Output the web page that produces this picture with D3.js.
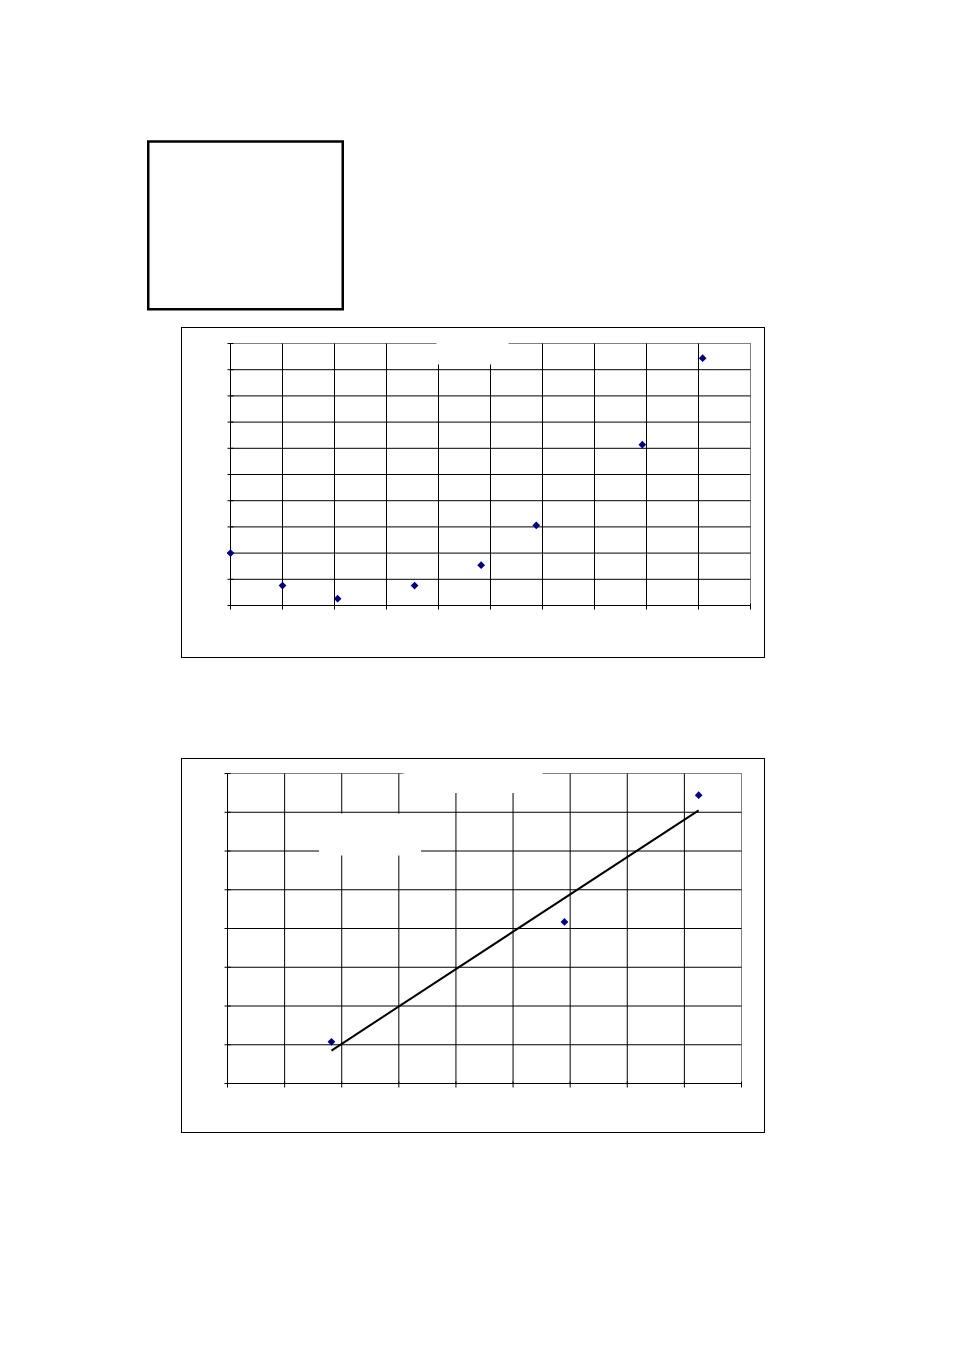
<!DOCTYPE html>
<html>
<head>
<meta charset="utf-8">
<script src="https://cdn.jsdelivr.net/npm/d3@7"></script>
<style>
    body { margin: 0; background: #fff; }
    svg { display: block; }
</style>
</head>
<body>
<svg id="page"></svg>
<script>
// Chart 1 - scatter (x 0..10, y 0..10)
const scatterX = [0, 1.0, 2.06, 3.54, 4.82, 5.88, 7.92, 9.08];
const scatterY = [2.0, 0.76, 0.26, 0.76, 1.54, 3.06, 6.14, 9.44];
const scatterXTicks = d3.range(0, 11);
const scatterYTicks = d3.range(0, 11);

// Chart 2 - scatter with linear trend line (x 0..9, y 0..8)
const trendX = [1.82, 5.90, 8.25];
const trendY = [1.075, 4.17, 7.44];
const trendXTicks = d3.range(0, 10);
const trendYTicks = d3.range(0, 9);

class GridScatter {
    constructor(_config, _xs, _ys) {
        this.config = {
            parent: _config.parent,
            frame: _config.frame,
            plot: _config.plot,
            xTicks: _config.xTicks,
            yTicks: _config.yTicks,
            blanks: _config.blanks || [],
            trend: _config.trend || false
        };
        this.data = _xs.map((x, i) => ({ x: x, y: _ys[i] }));
        this.initVis();
    }

    initVis() {
        let vis = this;
        const c = vis.config;

        vis.xScale = d3.scaleLinear()
            .domain(d3.extent(c.xTicks))
            .range([c.plot.x0, c.plot.x1]);
        vis.yScale = d3.scaleLinear()
            .domain(d3.extent(c.yTicks))
            .range([c.plot.y1, c.plot.y0]);

        vis.g = c.parent.append('g');

        // outer chart frame
        vis.g.append('rect')
            .attr('x', c.frame.x).attr('y', c.frame.y)
            .attr('width', c.frame.w).attr('height', c.frame.h)
            .attr('fill', '#fff').attr('stroke', '#000').attr('stroke-width', 1);

        // plot area border (grey top / right)
        vis.g.append('rect')
            .attr('x', c.plot.x0).attr('y', c.plot.y0)
            .attr('width', c.plot.x1 - c.plot.x0).attr('height', c.plot.y1 - c.plot.y0)
            .attr('fill', 'none').attr('stroke', '#808080').attr('stroke-width', 1);

        vis.renderVis();
    }

    renderVis() {
        let vis = this;
        const c = vis.config;
        const [xmin, xmax] = vis.xScale.domain();
        const [ymin, ymax] = vis.yScale.domain();

        // gridlines
        vis.g.append('g').selectAll('line')
            .data(c.yTicks.filter(d => d > ymin && d < ymax))
            .join('line')
            .attr('x1', c.plot.x0).attr('x2', c.plot.x1)
            .attr('y1', d => vis.yScale(d)).attr('y2', d => vis.yScale(d))
            .attr('stroke', '#000');
        vis.g.append('g').selectAll('line')
            .data(c.xTicks.filter(d => d > xmin && d < xmax))
            .join('line')
            .attr('y1', c.plot.y0).attr('y2', c.plot.y1)
            .attr('x1', d => vis.xScale(d)).attr('x2', d => vis.xScale(d))
            .attr('stroke', '#000');

        // axes
        const yAxis = d3.axisLeft(vis.yScale).tickValues(c.yTicks)
            .tickSize(3).tickSizeOuter(0).tickFormat('').offset(0);
        const yAxisG = vis.g.append('g')
            .attr('transform', `translate(${c.plot.x0},0)`)
            .call(yAxis);
        yAxisG.selectAll('.tick line').attr('x1', 3);

        const xAxis = d3.axisBottom(vis.xScale).tickValues(c.xTicks)
            .tickSize(4).tickSizeOuter(0).tickFormat('').offset(0);
        const xAxisG = vis.g.append('g')
            .attr('transform', `translate(0,${c.plot.y1})`)
            .call(xAxis);
        xAxisG.selectAll('.tick line').attr('y1', -2);
        vis.g.selectAll('.domain').attr('stroke', '#000');
        vis.g.selectAll('.tick line').attr('stroke', '#000');

        // empty label boxes that mask the grid
        vis.g.append('g').selectAll('rect')
            .data(c.blanks)
            .join('rect')
            .attr('x', d => d.x).attr('y', d => d.y)
            .attr('width', d => d.w).attr('height', d => d.h)
            .attr('fill', '#fff');

        // linear least squares trend line
        if (c.trend) {
            const mx = d3.mean(vis.data, d => d.x);
            const my = d3.mean(vis.data, d => d.y);
            const slope = d3.sum(vis.data, d => (d.x - mx) * (d.y - my)) /
                d3.sum(vis.data, d => (d.x - mx) * (d.x - mx));
            const intercept = my - slope * mx;
            const ext = d3.extent(vis.data, d => d.x);
            vis.g.append('line')
                .attr('x1', vis.xScale(ext[0])).attr('y1', vis.yScale(intercept + slope * ext[0]))
                .attr('x2', vis.xScale(ext[1])).attr('y2', vis.yScale(intercept + slope * ext[1]))
                .attr('stroke', '#000').attr('stroke-width', 2);
        }

        // diamond markers
        vis.g.append('g').selectAll('path')
            .data(vis.data)
            .join('path')
            .attr('d', d3.symbol(d3.symbolSquare, 30))
            .attr('transform', d => `translate(${vis.xScale(d.x)},${vis.yScale(d.y)}) rotate(45)`)
            .attr('fill', '#000080');
    }
}

const svg = d3.select('#page')
    .attr('width', 954)
    .attr('height', 1350);

svg.append('rect').attr('width', 954).attr('height', 1350).attr('fill', '#fff');

// framed blank box at top
svg.append('rect')
    .attr('x', 148.25).attr('y', 141.5)
    .attr('width', 194.5).attr('height', 167.75)
    .attr('fill', 'none').attr('stroke', '#000').attr('stroke-width', 2.5);

new GridScatter({
    parent: svg,
    frame: { x: 181.5, y: 327.5, w: 583, h: 330 },
    plot: { x0: 230.5, x1: 750.5, y0: 343.5, y1: 605.5 },
    xTicks: scatterXTicks,
    yTicks: scatterYTicks,
    blanks: [{ x: 436.5, y: 336, w: 72, h: 28.5 }]
}, scatterX, scatterY);

new GridScatter({
    parent: svg,
    frame: { x: 181.5, y: 758.5, w: 583, h: 374 },
    plot: { x0: 227.5, x1: 741.5, y0: 773.5, y1: 1083.5 },
    xTicks: trendXTicks,
    yTicks: trendYTicks,
    blanks: [
        { x: 403.5, y: 767, w: 139, h: 26 },
        { x: 319, y: 813.5, w: 102, h: 42 }
    ],
    trend: true
}, trendX, trendY);
</script>
</body>
</html>
